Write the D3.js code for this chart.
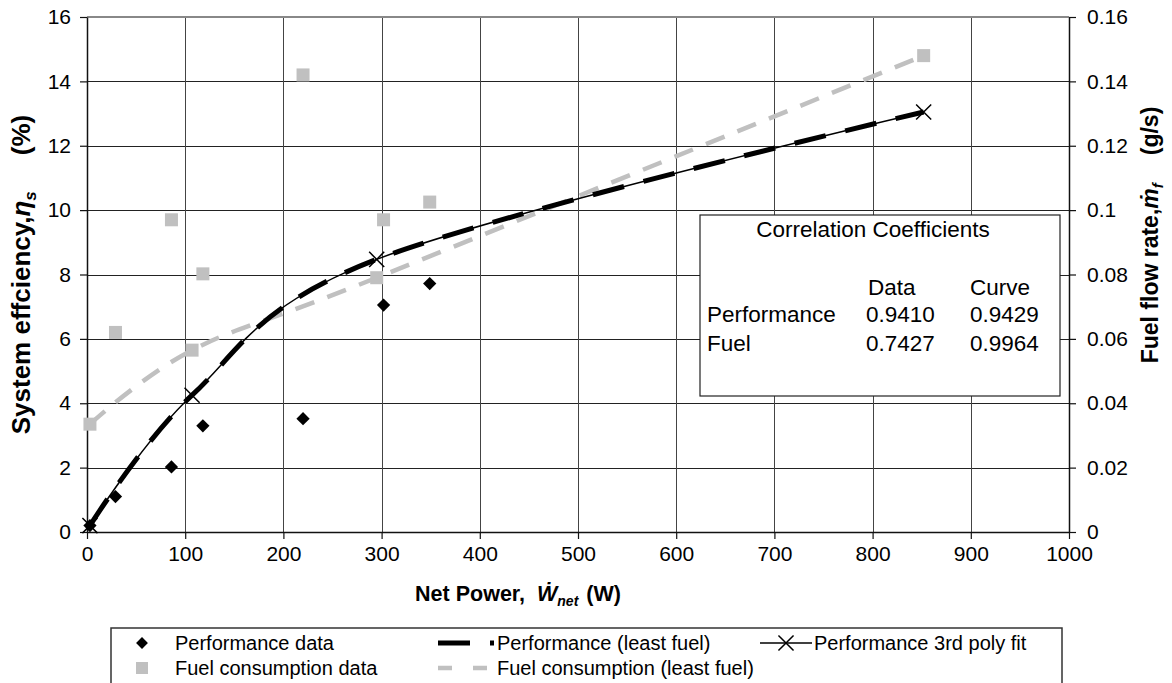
<!DOCTYPE html>
<html>
<head>
<meta charset="utf-8">
<script src="https://cdn.jsdelivr.net/npm/d3@7"></script>
<style>
    body { margin: 0; background: #fff; }
    svg text { font-family: "Liberation Sans", Arial, sans-serif; fill: #000; }
    .tick text { font-size: 21px; }
</style>
</head>
<body>
<div id="chart-area"></div>
<script>

// axis ticks
var xTicks = [0, 100, 200, 300, 400, 500, 600, 700, 800, 900, 1000];
var yTicks = [0, 2, 4, 6, 8, 10, 12, 14, 16];
var y2Ticks = [0, 0.02, 0.04, 0.06, 0.08, 0.1, 0.12, 0.14, 0.16];
var y2TickLabels = ["0", "0.02", "0.04", "0.06", "0.08", "0.1", "0.12", "0.14", "0.16"];

// measured performance (efficiency %)
var perfPower = [3, 29, 86, 118, 220, 302, 349];
var perfEff = [0.2, 1.1, 2.02, 3.3, 3.52, 7.05, 7.72];

// measured fuel consumption (g/s)
var fuelPower = [3, 29, 86, 107, 118, 220, 295, 302, 349, 852];
var fuelRate = [0.0335, 0.062, 0.097, 0.0565, 0.0802, 0.142, 0.079, 0.097, 0.1025, 0.148];

// least fuel operating line
var leastPower = [3, 107, 295, 852];
var leastEff = [0.2, 4.25, 8.47, 13.05];
var leastFuel = [0.0335, 0.0565, 0.079, 0.148];

// 3rd order poly fit points
var polyPower = [3, 107, 295, 852];
var polyEff = [0.2, 4.25, 8.47, 13.05];

// correlation table
var corrRows = ["Performance", "Fuel"];
var corrData = ["0.9410", "0.7427"];
var corrCurve = ["0.9429", "0.9964"];


FuelChart = function(_parentElement){
    this.parentElement = _parentElement;
    this.initVis();
};

FuelChart.prototype.initVis = function() {
    var vis = this;
    vis.margin = {top: 17, right: 103, bottom: 151, left: 87};

    vis.width = 1172 - vis.margin.left - vis.margin.right;
    vis.height = 683 - vis.margin.top - vis.margin.bottom;

    vis.root = d3.select("#" + vis.parentElement).append("svg")
        .attr("width", 1172)
        .attr("height", 683);

    vis.svg = vis.root.append("g")
        .attr("transform", "translate(" + vis.margin.left + "," + vis.margin.top + ")");

    vis.xScale = d3.scaleLinear().domain([0, 1000]).range([0, vis.width]);
    vis.yScale = d3.scaleLinear().domain([0, 16]).range([vis.height, 0]);
    vis.y2Scale = d3.scaleLinear().domain([0, 0.16]).range([vis.height, 0]);

    // gridlines
    vis.svg.selectAll(".hgrid")
        .data(yTicks.filter(function(d) { return d > 0 && d < 16; }))
        .enter().append("line")
        .attr("class", "hgrid")
        .attr("x1", 0).attr("x2", vis.width)
        .attr("y1", function(d) { return Math.round(vis.yScale(d)) + 0.5; })
        .attr("y2", function(d) { return Math.round(vis.yScale(d)) + 0.5; })
        .attr("stroke", "#222").attr("stroke-width", 1);

    vis.svg.selectAll(".vgrid")
        .data(xTicks.filter(function(d) { return d > 0 && d < 1000; }))
        .enter().append("line")
        .attr("class", "vgrid")
        .attr("y1", 0).attr("y2", vis.height)
        .attr("x1", function(d) { return Math.round(vis.xScale(d)) + 0.5; })
        .attr("x2", function(d) { return Math.round(vis.xScale(d)) + 0.5; })
        .attr("stroke", "#444").attr("stroke-width", 1);

    vis.svg.append("line")
        .attr("x1", 0).attr("x2", vis.width)
        .attr("y1", 0).attr("y2", 0)
        .attr("stroke", "#888").attr("stroke-width", 2);

    // axes
    vis.yAxis = d3.axisLeft(vis.yScale).tickValues(yTicks)
        .tickSize(7).tickSizeOuter(0).tickPadding(9);
    vis.y2Axis = d3.axisRight(vis.y2Scale).tickValues(y2Ticks)
        .tickFormat(function(d, i) { return y2TickLabels[i]; })
        .tickSize(7).tickSizeOuter(0).tickPadding(11);
    vis.xAxis = d3.axisBottom(vis.xScale).tickValues(xTicks)
        .tickFormat(function(d) { return String(d); })
        .tickSize(7).tickSizeOuter(0).tickPadding(7);

    vis.svg.append("g").attr("class", "axis").call(vis.yAxis);
    vis.svg.append("g").attr("class", "axis")
        .attr("transform", "translate(" + vis.width + ",0)")
        .call(vis.y2Axis);
    vis.svg.append("g").attr("class", "axis")
        .attr("transform", "translate(0," + vis.height + ")")
        .call(vis.xAxis);

    vis.svg.selectAll(".axis .domain").attr("stroke", "#111").attr("stroke-width", 1.5);
    vis.svg.selectAll(".axis .tick line").attr("stroke", "#111").attr("stroke-width", 1.2);
    vis.svg.selectAll(".axis .tick text").attr("font-family", "Liberation Sans, Arial, sans-serif");

    // correlation box
    var box = vis.root.append("g").attr("class", "corr-box");
    box.append("rect")
        .attr("x", 700).attr("y", 215)
        .attr("width", 360).attr("height", 181)
        .attr("fill", "#fff").attr("stroke", "#222").attr("stroke-width", 1.2);
    box.append("text")
        .attr("x", 873).attr("y", 237)
        .attr("text-anchor", "middle")
        .style("font-size", "22.5px")
        .text("Correlation Coefficients");
    box.append("text").attr("x", 868).attr("y", 295).style("font-size", "22.5px").text("Data");
    box.append("text").attr("x", 970).attr("y", 295).style("font-size", "22.5px").text("Curve");
    corrRows.forEach(function(r, i) {
        var yy = 322 + i * 29;
        box.append("text").attr("x", 707).attr("y", yy).style("font-size", "22.5px").text(r);
        box.append("text").attr("x", 866).attr("y", yy).style("font-size", "22.5px").text(corrData[i]);
        box.append("text").attr("x", 970).attr("y", yy).style("font-size", "22.5px").text(corrCurve[i]);
    });

    // lines
    var least = leastPower.map(function(p, i) { return {p: p, e: leastEff[i], f: leastFuel[i]}; });
    var poly = polyPower.map(function(p, i) { return {p: p, e: polyEff[i]}; });

    vis.effLine = d3.line()
        .x(function(d) { return vis.xScale(d.p); })
        .y(function(d) { return vis.yScale(d.e); })
        .curve(d3.curveCardinal.tension(0));

    vis.fuelLine = d3.line()
        .x(function(d) { return vis.xScale(d.p); })
        .y(function(d) { return vis.y2Scale(d.f); })
        .curve(d3.curveCardinal.tension(0));

    vis.svg.append("path")
        .datum(least)
        .attr("class", "fuel-least")
        .attr("d", vis.fuelLine)
        .attr("fill", "none")
        .attr("stroke", "#c0c0c0")
        .attr("stroke-width", 4.5)
        .attr("stroke-dasharray", "20,14");

    vis.svg.append("path")
        .datum(least)
        .attr("class", "perf-least")
        .attr("d", vis.effLine)
        .attr("fill", "none")
        .attr("stroke", "#000")
        .attr("stroke-width", 5)
        .attr("stroke-dasharray", "32,20");

    vis.svg.append("path")
        .datum(poly)
        .attr("class", "perf-poly")
        .attr("d", vis.effLine)
        .attr("fill", "none")
        .attr("stroke", "#000")
        .attr("stroke-width", 1.5);

    // markers
    vis.svg.selectAll(".fuel-point")
        .data(fuelPower.map(function(p, i) { return {p: p, f: fuelRate[i]}; }))
        .enter().append("rect")
        .attr("class", "fuel-point")
        .attr("x", function(d) { return vis.xScale(d.p) - 6.5; })
        .attr("y", function(d) { return vis.y2Scale(d.f) - 6.5; })
        .attr("width", 13).attr("height", 13)
        .attr("fill", "#c0c0c0");

    vis.diamond = d3.symbol().type(d3.symbolSquare).size(88);
    vis.svg.selectAll(".perf-point")
        .data(perfPower.map(function(p, i) { return {p: p, e: perfEff[i]}; }))
        .enter().append("path")
        .attr("class", "perf-point")
        .attr("d", vis.diamond)
        .attr("transform", function(d) {
            return "translate(" + vis.xScale(d.p) + "," + vis.yScale(d.e) + ") rotate(45)";
        })
        .attr("fill", "#000");

    vis.cross = d3.symbol().type(d3.symbolX || d3.symbolCross).size(150);
    vis.svg.selectAll(".poly-point")
        .data(poly)
        .enter().append("path")
        .attr("class", "poly-point")
        .attr("d", vis.cross)
        .attr("transform", function(d) {
            return "translate(" + vis.xScale(d.p) + "," + vis.yScale(d.e) + ")";
        })
        .attr("fill", "none")
        .attr("stroke", "#000")
        .attr("stroke-width", 1.5);

    vis.drawTitles();
    vis.drawLegend();
};

FuelChart.prototype.drawTitles = function() {
    var vis = this;

    var left = vis.root.append("text")
        .attr("transform", "translate(30," + (vis.margin.top + vis.height / 2) + ") rotate(-90)")
        .attr("text-anchor", "middle")
        .style("font-size", "26px").style("font-weight", "bold");
    left.append("tspan").text("System effciency,");
    left.append("tspan").style("font-style", "italic").text("η");
    left.append("tspan").attr("dy", 6).style("font-size", "17px").style("font-style", "italic").text("s");
    left.append("tspan").attr("dy", -6).attr("dx", 36).text("(%)");

    var right = vis.root.append("text")
        .attr("transform", "translate(1158,235) rotate(-90)")
        .attr("text-anchor", "middle")
        .style("font-size", "23px").style("font-weight", "bold");
    right.append("tspan").text("Fuel flow rate,");
    right.append("tspan").style("font-style", "italic").text("ṁ");
    right.append("tspan").attr("dy", 5).style("font-size", "15px").style("font-style", "italic").text("f");
    right.append("tspan").attr("dy", -5).attr("dx", 28).text("(g/s)");

    var bottom = vis.root.append("text")
        .attr("x", 518)
        .attr("y", 601)
        .attr("text-anchor", "middle")
        .style("font-size", "21.5px").style("font-weight", "bold");
    bottom.append("tspan").text("Net Power,");
    bottom.append("tspan").attr("dx", 12).style("font-style", "italic").text("Ẇ");
    bottom.append("tspan").attr("dy", 5).style("font-size", "14px").style("font-style", "italic").text("net");
    bottom.append("tspan").attr("dy", -5).attr("dx", 8).text("(W)");
};

FuelChart.prototype.drawLegend = function() {
    var vis = this;
    var lg = vis.root.append("g").attr("class", "legend");

    lg.append("rect")
        .attr("x", 111).attr("y", 628)
        .attr("width", 951).attr("height", 90)
        .attr("fill", "#fff").attr("stroke", "#333").attr("stroke-width", 1.5);

    var row1 = 643, row2 = 668;

    lg.append("path")
        .attr("d", d3.symbol().type(d3.symbolSquare).size(70))
        .attr("transform", "translate(142," + row1 + ") rotate(45)")
        .attr("fill", "#000");
    lg.append("rect")
        .attr("x", 136).attr("y", row2 - 6).attr("width", 12).attr("height", 12)
        .attr("fill", "#c0c0c0");

    lg.append("line")
        .attr("x1", 438).attr("x2", 494).attr("y1", row1).attr("y2", row1)
        .attr("stroke", "#000").attr("stroke-width", 5).attr("stroke-dasharray", "32,20");
    lg.append("line")
        .attr("x1", 438).attr("x2", 494).attr("y1", row2).attr("y2", row2)
        .attr("stroke", "#c0c0c0").attr("stroke-width", 4.5).attr("stroke-dasharray", "14,21");

    lg.append("line")
        .attr("x1", 760).attr("x2", 812).attr("y1", row1).attr("y2", row1)
        .attr("stroke", "#000").attr("stroke-width", 1.5);
    lg.append("path")
        .attr("d", d3.symbol().type(d3.symbolX || d3.symbolCross).size(150))
        .attr("transform", "translate(786," + row1 + ")")
        .attr("fill", "none").attr("stroke", "#000").attr("stroke-width", 1.5);

    var labels = [
        {x: 175, y: row1, t: "Performance data"},
        {x: 175, y: row2, t: "Fuel consumption data"},
        {x: 497, y: row1, t: "Performance (least fuel)"},
        {x: 497, y: row2, t: "Fuel consumption (least fuel)"},
        {x: 814, y: row1, t: "Performance 3rd poly fit"}
    ];
    lg.selectAll(".legend-label")
        .data(labels)
        .enter().append("text")
        .attr("class", "legend-label")
        .attr("x", function(d) { return d.x; })
        .attr("y", function(d) { return d.y; })
        .attr("dy", "0.35em")
        .style("font-size", "20px")
        .text(function(d) { return d.t; });
};

var chart = new FuelChart("chart-area");

</script>
</body>
</html>
